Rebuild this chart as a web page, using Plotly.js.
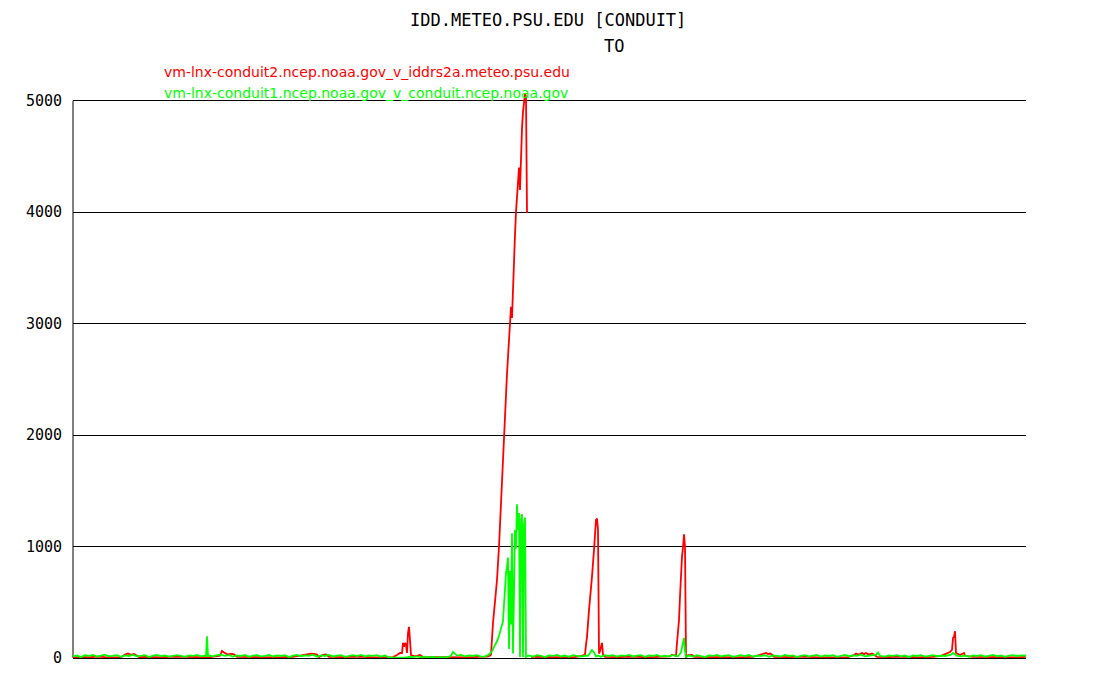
<!DOCTYPE html>
<html>
<head>
<meta charset="utf-8">
<script src="https://cdn.plot.ly/plotly-3.0.1.min.js"></script>
<style>html,body{margin:0;padding:0;background:#fff;}#chart{width:1094px;height:698px;}</style>
</head>
<body>
<div id="chart"></div>
<script>
// Chart texts
const titleLine1 = "IDD.METEO.PSU.EDU [CONDUIT]";
const titleLine2 = "TO";
const redName = "vm-lnx-conduit2.ncep.noaa.gov_v_iddrs2a.meteo.psu.edu";
const greenName = "vm-lnx-conduit1.ncep.noaa.gov_v_conduit.ncep.noaa.gov";
const yTickValues = [0, 1000, 2000, 3000, 4000, 5000];

// Series values as [sample index, value]; null marks a data gap
const redPts = [[0,5],[8,10],[16,6],[24,12],[32,8],[40,10],[48,6],[52,30],[55,40],[58,28],[61,36],[64,20],[66,8],[76,10],[88,6],[100,12],[112,8],[124,10],[136,6],[147,20],[149,63],[151,50],[153,40],[155,30],[158,38],[161,32],[164,10],[176,8],[190,12],[205,6],[220,10],[235,30],[238,40],[241,36],[244,30],[246,8],[250,28],[253,32],[256,10],[270,8],[285,12],[300,6],[312,10],[320,8],[324,27],[327,45],[329,45],[330,135],[331,100],[332,135],[333,120],[334,45],[335,224],[336,280],[337,160],[338,27],[342,15],[347,27],[350,10],[365,8],[380,12],[395,6],[405,10],[414,12],[417,20],[418,30],[420,314],[422,520],[424,700],[426,1000],[429,1600],[431,2050],[434,2550],[437,3000],[438,3150],[439,3050],[440,3350],[442,3800],[443,4000],[444,4150],[445,4300],[446,4400],[447,4200],[448,4600],[449,4750],[450,4900],[451,5000],[452,5060],[453,5040],[454,4000],[455,4000],[456,null],[458,10],[470,8],[485,12],[500,6],[509,20],[512,30],[513,117],[514,190],[516,430],[517,520],[519,730],[521,970],[522,1150],[523,1240],[524,1250],[525,1150],[526,40],[527,60],[528,100],[529,135],[530,30],[532,10],[545,8],[560,12],[575,6],[590,10],[597,15],[599,30],[601,25],[603,20],[604,135],[605,224],[606,340],[607,550],[608,770],[609,910],[610,990],[611,1110],[612,1000],[613,5],[615,25],[617,30],[619,28],[621,10],[635,8],[650,12],[665,6],[680,10],[689,30],[691,40],[693,45],[695,35],[697,40],[699,30],[701,10],[715,8],[730,12],[745,6],[760,10],[775,8],[781,25],[783,40],[786,30],[789,45],[791,35],[793,45],[796,30],[799,40],[802,25],[804,10],[815,8],[830,12],[845,6],[860,10],[868,20],[870,27],[874,45],[877,54],[879,72],[880,180],[881,190],[882,240],[883,45],[884,40],[887,27],[891,45],[892,20],[900,10],[915,8],[930,12],[945,6],[953,10]];

const greenPts = [[0,15],[4,22],[8,8],[12,25],[16,18],[20,27],[24,12],[28,20],[32,30],[36,15],[40,22],[44,26],[48,10],[52,24],[56,18],[60,28],[64,14],[68,20],[72,25],[76,9],[80,22],[84,27],[88,16],[92,24],[96,12],[100,20],[104,26],[108,18],[112,10],[116,24],[120,20],[124,28],[128,15],[132,22],[133,20],[134,195],[135,18],[136,22],[140,14],[144,26],[148,30],[152,20],[156,25],[160,12],[164,24],[168,18],[172,27],[176,10],[180,22],[184,26],[188,15],[192,20],[196,28],[200,14],[204,24],[208,18],[212,26],[216,8],[220,22],[224,27],[228,16],[232,24],[236,20],[240,30],[244,12],[248,24],[252,18],[256,27],[260,14],[264,22],[268,26],[272,10],[276,20],[280,25],[284,18],[288,28],[292,15],[296,24],[300,20],[304,26],[308,12],[312,22],[316,3],[320,2],[324,4],[328,6],[332,3],[336,10],[340,8],[344,14],[348,6],[352,12],[356,5],[360,10],[364,4],[368,8],[372,6],[376,12],[378,20],[380,55],[382,35],[384,22],[388,28],[392,15],[396,24],[400,18],[404,26],[408,12],[412,15],[415,25],[417,40],[419,60],[421,100],[424,150],[426,200],[428,260],[430,330],[431,480],[432,700],[433,760],[434,820],[435,900],[436,80],[437,780],[438,300],[439,1120],[440,40],[441,880],[442,1150],[443,980],[444,1380],[445,1150],[446,1300],[447,10],[448,1240],[449,1290],[450,10],[451,1200],[452,1260],[453,10],[456,22],[460,12],[464,25],[468,18],[472,8],[476,24],[480,20],[484,28],[488,14],[492,22],[496,10],[500,26],[504,18],[508,12],[512,20],[515,20],[517,45],[519,72],[521,50],[523,15],[525,22],[528,10],[532,25],[536,18],[540,26],[544,12],[548,24],[552,20],[556,28],[560,14],[564,22],[568,25],[572,10],[576,24],[580,18],[584,27],[588,12],[592,20],[596,15],[600,25],[603,20],[605,15],[608,50],[610,120],[611,180],[612,60],[613,10],[616,22],[620,12],[624,26],[628,18],[632,8],[636,24],[640,20],[644,28],[648,14],[652,22],[656,26],[660,10],[664,20],[668,25],[672,16],[676,28],[680,12],[684,22],[688,18],[692,26],[696,10],[700,24],[704,20],[708,14],[712,27],[716,18],[720,24],[724,8],[728,20],[732,26],[736,15],[740,22],[744,28],[748,12],[752,24],[756,18],[760,26],[764,10],[768,22],[772,27],[776,16],[780,24],[784,20],[788,30],[792,14],[796,22],[800,26],[803,30],[805,50],[807,20],[812,12],[816,24],[820,20],[824,26],[828,15],[832,22],[836,8],[840,24],[844,18],[848,26],[852,12],[856,20],[860,25],[864,16],[868,22],[872,18],[876,25],[878,30],[880,45],[882,28],[884,20],[888,14],[892,22],[896,10],[900,24],[904,18],[908,26],[912,12],[916,22],[920,28],[924,16],[928,24],[932,10],[936,22],[940,26],[944,18],[948,24],[953,20]];

const traces = [
  {x: redPts.map(p => p[0]), y: redPts.map(p => p[1]), type: 'scatter', mode: 'lines',
   name: redName, line: {color: '#ff0000', width: 1.8}, connectgaps: false, hoverinfo: 'skip'},
  {x: greenPts.map(p => p[0]), y: greenPts.map(p => p[1]), type: 'scatter', mode: 'lines',
   name: greenName, line: {color: '#00ff00', width: 1.8}, hoverinfo: 'skip'}
];

const monoFont = 'DejaVu Sans Mono, monospace';
const layout = {
  width: 1094, height: 698,
  margin: {l: 73, r: 68, t: 94, b: 40},
  paper_bgcolor: '#ffffff', plot_bgcolor: '#ffffff',
  showlegend: false,
  xaxis: {range: [0, 953], showgrid: false, zeroline: false, showline: false,
          showticklabels: false, ticks: ''},
  yaxis: {range: [0, 5060], tickvals: yTickValues, ticktext: yTickValues.map(String),
          showgrid: true, gridcolor: '#000000', gridwidth: 1,
          zeroline: true, zerolinecolor: '#000000', zerolinewidth: 1,
          showline: false, ticks: 'outside', ticklen: 7, tickcolor: 'rgba(0,0,0,0)',
          tickfont: {family: monoFont, size: 15, color: '#000000'}},
  shapes: [
    {type: 'line', xref: 'paper', yref: 'y', x0: 0, x1: 0, y0: 0, y1: 5000,
     line: {color: '#000000', width: 1}, layer: 'below'}
  ],
  annotations: [
    {text: titleLine1, xref: 'paper', yref: 'paper', x: 0.4984, y: 1.1312,
     xanchor: 'center', yanchor: 'middle', showarrow: false,
     font: {family: monoFont, size: 17, color: '#000000'}},
    {text: titleLine2, xref: 'paper', yref: 'paper', x: 0.5677, y: 1.0851,
     xanchor: 'center', yanchor: 'middle', showarrow: false,
     font: {family: monoFont, size: 17, color: '#000000'}},
    {text: redName, xref: 'paper', yref: 'paper', x: 0.0934, y: 1.0390,
     xanchor: 'left', yanchor: 'middle', showarrow: false,
     font: {family: 'DejaVu Sans, sans-serif', size: 14, color: '#ff0000'}},
    {text: greenName, xref: 'paper', yref: 'paper', x: 0.0934, y: 1.0018,
     xanchor: 'left', yanchor: 'middle', showarrow: false,
     font: {family: 'DejaVu Sans, sans-serif', size: 14, color: '#00ff00'}}
  ]
};

Plotly.newPlot('chart', traces, layout, {staticPlot: true, displayModeBar: false});
</script>
</body>
</html>
